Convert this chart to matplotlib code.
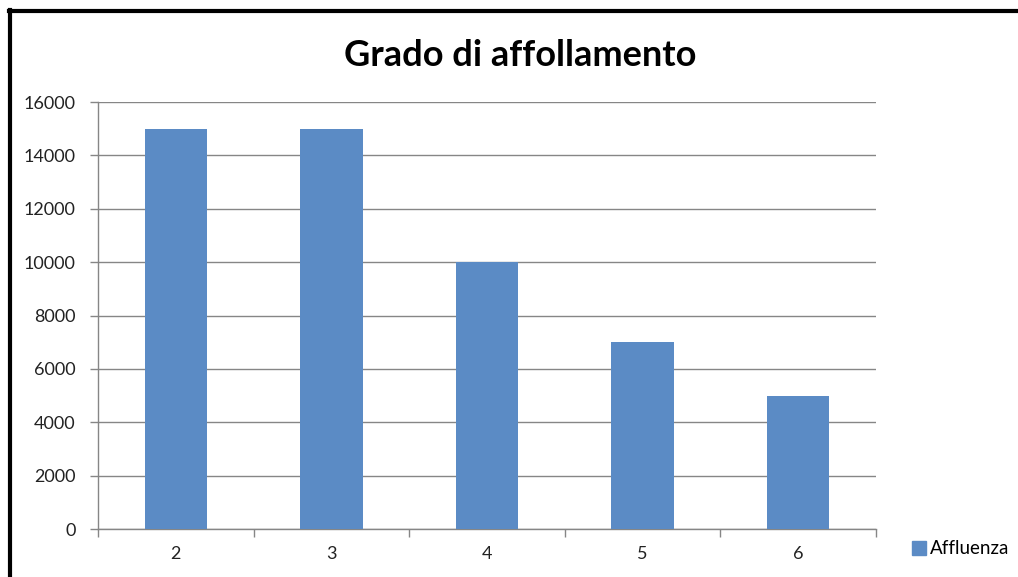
import numpy as np
import matplotlib
matplotlib.use("Agg")
import matplotlib.pyplot as plt
from matplotlib.lines import Line2D
from matplotlib.patches import Patch

categories = ["2", "3", "4", "5", "6"]
affluenza = [15000, 15000, 10000, 7000, 5000]
y_ticks = [0, 2000, 4000, 6000, 8000, 10000, 12000, 14000, 16000]

plt.rcParams['font.family'] = ['Lato', 'DejaVu Sans']

W, H = 1018, 577
fig = plt.figure(figsize=(W / 100, H / 100), dpi=100)
ax = fig.add_axes([98 / W, 1 - 529 / H, (876 - 98) / W, (529 - 102) / H])

x = np.arange(len(categories))
ax.bar(x, affluenza, width=0.4, color="#5b8bc5", zorder=3, label="Affluenza")

ax.set_xlim(-0.5, len(categories) - 0.5)
ax.set_ylim(0, 16000)
ax.set_yticks(y_ticks)
ax.set_yticklabels([str(v) for v in y_ticks], fontsize=13, color="#222222")
ax.set_xticks(x)
ax.set_xticklabels(categories, fontsize=13, color="#222222")
ax.tick_params(axis="x", length=0, pad=12)
ax.tick_params(axis="y", length=6, width=1, color="#868686", pad=10)
# category boundary ticks
ax.set_xticks(np.arange(-0.5, len(categories)), minor=True)
ax.tick_params(axis="x", which="minor", length=6, width=1, color="#868686")

ax.grid(axis="y", color="#868686", linewidth=1, zorder=0)
for s in ["top", "right"]:
    ax.spines[s].set_visible(False)
for s in ["left", "bottom"]:
    ax.spines[s].set_color("#868686")
    ax.spines[s].set_linewidth(1)

fig.text(520 / W, 1 - 55 / H, "Grado di affollamento", ha="center", va="center",
         fontsize=26, fontweight="bold", color="black")

fig.legend(handles=[Patch(color="#5b8bc5", label="Affluenza")],
           loc="center left", bbox_to_anchor=(904 / W, 1 - 549 / H),
           frameon=False, fontsize=13.5, handlelength=0.75, handleheight=0.75,
           handletextpad=0.25, borderaxespad=0)

# chart frame (left and top edges)
fig.add_artist(Line2D([10 / W, 10 / W], [0, 1 - 10 / H], color="black", lw=3,
                      transform=fig.transFigure))
fig.add_artist(Line2D([9 / W, 1], [1 - 11 / H, 1 - 11 / H], color="black", lw=3,
                      transform=fig.transFigure))

fig.savefig("out.png", dpi=100)
